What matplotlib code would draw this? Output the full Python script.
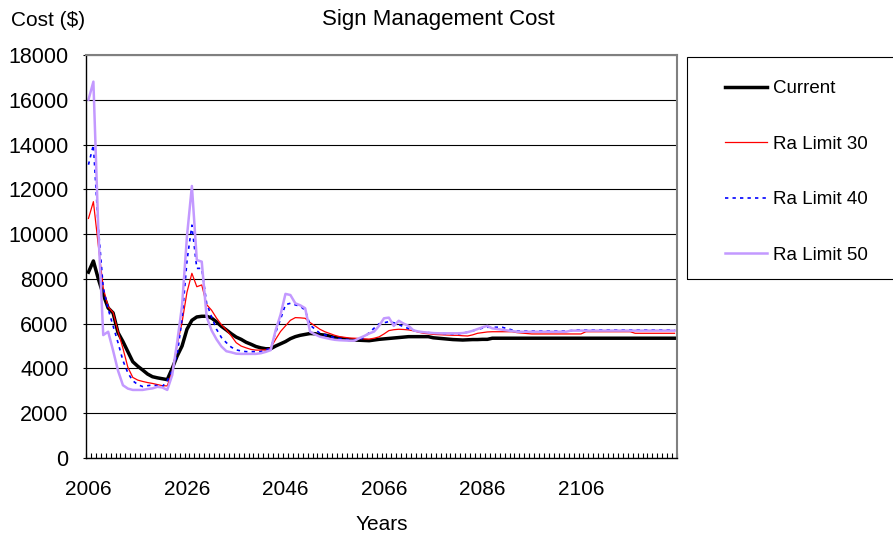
import matplotlib
matplotlib.use('Agg')
import matplotlib.pyplot as plt
from matplotlib.patches import Rectangle
from matplotlib.ticker import FixedLocator

plt.rcParams['font.family'] = ['Liberation Sans', 'DejaVu Sans']

# one value per year, 2006-2125
years = list(range(2006, 2126))
label_years = [2006, 2026, 2046, 2066, 2086, 2106]
cost_ticks = [0, 2000, 4000, 6000, 8000, 10000, 12000, 14000, 16000, 18000]

current = [
    8300, 8800, 8000, 7300, 6700, 6480, 5600, 5200, 4750, 4300,
    4100, 3930, 3750, 3630, 3580, 3540, 3500, 4000, 4550, 5000,
    5750, 6150, 6300, 6330, 6330, 6250, 6080, 5880, 5720, 5550,
    5400, 5300, 5170, 5080, 4980, 4920, 4880, 4880, 5000, 5100,
    5200, 5330, 5420, 5480, 5520, 5560, 5550, 5510, 5490, 5440,
    5380, 5350, 5320, 5290, 5270, 5260, 5250, 5240, 5270, 5300,
    5320, 5340, 5360, 5380, 5400, 5420, 5420, 5420, 5420, 5420,
    5370, 5350, 5330, 5310, 5290, 5280, 5270, 5280, 5290, 5290,
    5300, 5300, 5350, 5350, 5350, 5350, 5350, 5350, 5350, 5350,
    5350, 5350, 5350, 5350, 5350, 5350, 5350, 5350, 5350, 5350,
    5350, 5350, 5350, 5350, 5350, 5350, 5350, 5350, 5350, 5350,
    5350, 5350, 5350, 5350, 5350, 5350, 5350, 5350, 5350, 5350,
]

ra_limit_30 = [
    10700, 11450, 9500, 7600, 6750, 6500, 5650, 4900, 4050, 3600,
    3480, 3420, 3370, 3330, 3280, 3230, 3220, 3850, 5050, 6050,
    7400, 8250, 7650, 7730, 6850, 6600, 6250, 5950, 5720, 5450,
    5150, 5000, 4920, 4850, 4820, 4820, 4830, 4920, 5300, 5650,
    5900, 6150, 6270, 6260, 6240, 6050, 5900, 5750, 5640, 5560,
    5480, 5420, 5390, 5360, 5350, 5340, 5320, 5310, 5350, 5410,
    5540, 5690, 5730, 5750, 5740, 5720, 5680, 5620, 5570, 5550,
    5520, 5510, 5500, 5490, 5480, 5480, 5460, 5450, 5500, 5570,
    5600, 5630, 5640, 5640, 5640, 5640, 5640, 5600, 5580, 5560,
    5540, 5540, 5540, 5540, 5540, 5540, 5540, 5540, 5540, 5540,
    5540, 5640, 5640, 5640, 5640, 5640, 5640, 5640, 5640, 5640,
    5640, 5570, 5570, 5570, 5570, 5570, 5570, 5570, 5570, 5570,
]

ra_limit_40 = [
    13100, 13980, 10300, 7600, 6650, 5900, 5150, 4350, 3800, 3450,
    3280, 3190, 3230, 3260, 3230, 3190, 3450, 3900, 4600, 6200,
    8800, 10400, 8470, 8470, 6900, 6300, 5750, 5380, 5150, 4950,
    4830, 4780, 4750, 4750, 4750, 4750, 4830, 4900, 5600, 6200,
    6850, 6910, 6840, 6780, 6600, 5940, 5750, 5570, 5500, 5430,
    5370, 5330, 5300, 5280, 5270, 5280, 5400, 5600, 5800, 5990,
    6040, 6090, 6040, 5960, 5860, 5780, 5700, 5640, 5620, 5600,
    5580, 5570, 5560, 5550, 5550, 5540, 5580, 5620, 5680, 5740,
    5800, 5840, 5840, 5840, 5840, 5780, 5720, 5670, 5670, 5670,
    5670, 5670, 5670, 5670, 5670, 5670, 5670, 5670, 5690, 5720,
    5720, 5720, 5720, 5720, 5720, 5720, 5720, 5720, 5720, 5720,
    5720, 5720, 5720, 5720, 5720, 5720, 5720, 5720, 5720, 5720,
]

ra_limit_50 = [
    16000, 16810, 10200, 5490, 5640, 4800, 3900, 3250, 3100, 3040,
    3040, 3040, 3080, 3110, 3180, 3150, 3040, 3700, 5150, 6800,
    9900, 12150, 8840, 8770, 6300, 5700, 5300, 4980, 4770, 4720,
    4660, 4650, 4650, 4650, 4650, 4680, 4740, 4820, 5700, 6400,
    7330, 7280, 6910, 6820, 6690, 5640, 5520, 5420, 5370, 5320,
    5280, 5260, 5250, 5240, 5240, 5350, 5450, 5560, 5650, 5900,
    6240, 6270, 5900, 6130, 6000, 5900, 5700, 5650, 5620, 5600,
    5580, 5570, 5570, 5570, 5570, 5570, 5580, 5620, 5680, 5760,
    5840, 5900, 5790, 5760, 5730, 5700, 5670, 5640, 5640, 5640,
    5640, 5640, 5640, 5640, 5640, 5640, 5640, 5640, 5690, 5690,
    5690, 5690, 5690, 5690, 5690, 5690, 5690, 5690, 5690, 5690,
    5690, 5690, 5690, 5690, 5690, 5690, 5690, 5690, 5690, 5690,
]

W, H = 893, 542
fig = plt.figure(figsize=(W / 100, H / 100), dpi=100)
ax = fig.add_axes([86 / W, 84 / H, 591 / W, 403 / H])

ax.plot(years, current, color='black', lw=2.5, label='Current')
ax.plot(years, ra_limit_30, color='#ff0000', lw=0.9, label='Ra Limit 30')
ax.plot(years, ra_limit_40, color='#0000ff', lw=1.2, dashes=(2, 2.5), label='Ra Limit 40')
ax.plot(years, ra_limit_50, color='#c399ff', lw=1.8, label='Ra Limit 50')

ax.set_xlim(2005.5, 2125.5)
ax.set_ylim(0, 18000)
ax.set_yticks(cost_ticks)
ax.yaxis.grid(True, color='black', lw=0.8)
ax.set_axisbelow(True)

# labels every 20 years, tick marks between every year
ax.xaxis.set_major_locator(FixedLocator(label_years))
ax.xaxis.set_minor_locator(FixedLocator([y - 0.5 for y in years] + [years[-1] + 0.5]))
ax.tick_params(axis='x', which='major', length=0, pad=16, labelsize=15)
ax.tick_params(axis='x', which='minor', direction='in', length=3.5, width=0.8)
ax.tick_params(axis='y', direction='out', length=2.5, width=0.8, pad=10, labelsize=15.5)

for side in ['left', 'bottom']:
    ax.spines[side].set_color('black')
    ax.spines[side].set_linewidth(1.0)
for side in ['top', 'right']:
    ax.spines[side].set_color('#808080')
    ax.spines[side].set_linewidth(1.5)

fig.text(11 / W, 1 - 21 / H, 'Cost ($)', fontsize=15, ha='left', va='center')
fig.text(438 / W, 1 - 20 / H, 'Sign Management Cost', fontsize=16, ha='center', va='center')
fig.text(381.5 / W, 1 - 524 / H, 'Years', fontsize=15, ha='center', va='center')

# legend box runs off the right edge
fig.add_artist(Rectangle((687 / W, 1 - 279 / H), 0.3, 222 / H, transform=fig.transFigure,
                         fill=False, ec='black', lw=0.8))
ax.legend(loc='upper left', bbox_to_anchor=(725 / W, 1 - 80 / H), bbox_transform=fig.transFigure,
          frameon=False, borderpad=0, borderaxespad=0, handlelength=2.24, handletextpad=0.32,
          labelspacing=2.05, fontsize=13.5)

fig.savefig('out.png', dpi=100)
